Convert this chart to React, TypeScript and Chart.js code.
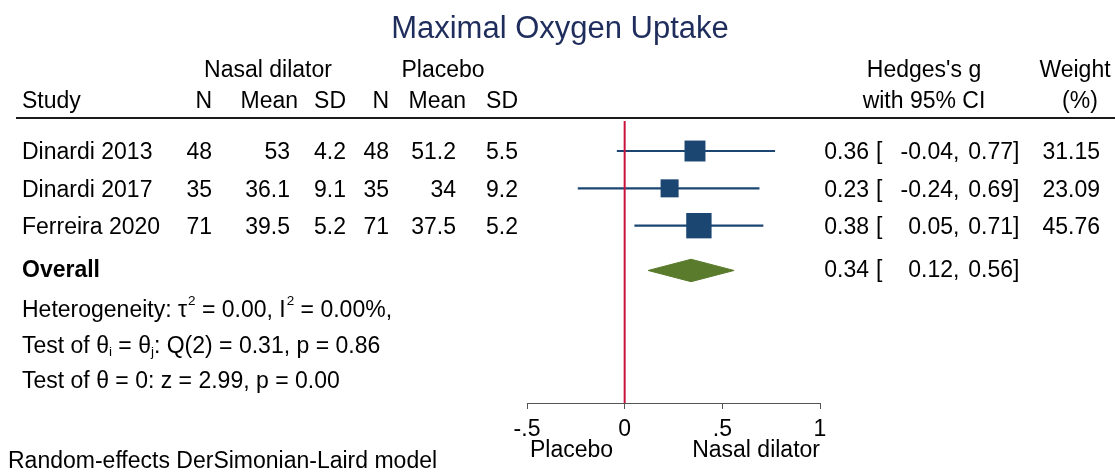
import React, { useEffect, useRef } from 'react';
import { Chart, registerables } from 'chart.js';

Chart.register(...registerables);

// ---------- data ----------
const chartTitle = 'Maximal Oxygen Uptake';
const studies = ['Dinardi 2013', 'Dinardi 2017', 'Ferreira 2020'];
const nTreat = [48, 35, 71];
const meanTreat = [53, 36.1, 39.5];
const sdTreat = [4.2, 9.1, 5.2];
const nCtrl = [48, 35, 71];
const meanCtrl = [51.2, 34, 37.5];
const sdCtrl = [5.5, 9.2, 5.2];
const effect = [0.36, 0.23, 0.38];
const lower = [-0.04, -0.24, 0.05];
const upper = [0.77, 0.69, 0.71];
const weight = [31.15, 23.09, 45.76];
const overallEffect = [0.34];
const overallLower = [0.12];
const overallUpper = [0.56];
const xTicks = [-0.5, 0, 0.5, 1];
const axisLabels = ['Placebo', 'Nasal dilator'];
const heterogeneity = { tau2: '0.00', i2: '0.00', q: '0.31', df: 2, pq: '0.86', z: '2.99', pz: '0.00' };
const modelNote = 'Random-effects DerSimonian-Laird model';

// ---------- layout constants ----------
const W = 1115;
const H = 473;
const FONT = '"Liberation Sans", Arial, Helvetica, sans-serif';
const F = `23px ${FONT}`;
const FB = `bold 23px ${FONT}`;
const FS = `13.5px ${FONT}`;
const rows = [1, 2, 3];
const overallRow = 4.2;
const Y_MIN = 0.196;
const Y_MAX = 7.75;
const NAVY = '#1b4672';
const RED = '#c8143c';
const GREEN = '#5a7a2c';

const textPlugin = {
  id: 'forestText',
  afterDraw(chart: any) {
    const ctx: CanvasRenderingContext2D = chart.ctx;
    const ys = chart.scales.y;
    ctx.save();
    const txt = (s: string, x: number, y: number, align: CanvasTextAlign = 'left', font = F, color = '#000') => {
      ctx.font = font;
      ctx.fillStyle = color;
      ctx.textAlign = align;
      ctx.textBaseline = 'middle';
      ctx.fillText(s, x, y);
      return ctx.measureText(s).width;
    };

    // title
    txt(chartTitle, 560, 29, 'center', `31px ${FONT}`, '#1f2d5c');

    // headers
    const h1 = 71;
    const h2 = 102;
    txt('Nasal dilator', 268, h1, 'center');
    txt('Placebo', 443, h1, 'center');
    txt("Hedges's g", 924, h1, 'center');
    txt('Weight', 1075, h1, 'center');
    txt('Study', 22, h2);
    txt('N', 212, h2, 'right');
    txt('Mean', 298, h2, 'right');
    txt('SD', 346, h2, 'right');
    txt('N', 389, h2, 'right');
    txt('Mean', 466, h2, 'right');
    txt('SD', 518, h2, 'right');
    txt('with 95% CI', 924, h2, 'center');
    txt('(%)', 1080, h2, 'center');

    // header rule
    ctx.strokeStyle = '#1a1a1a';
    ctx.lineWidth = 2;
    ctx.beginPath();
    ctx.moveTo(16, 118);
    ctx.lineTo(W, 118);
    ctx.stroke();

    const ciText = (y: number, es: number, lo: number, hi: number) => {
      txt(es.toFixed(2), 869, y, 'right');
      txt('[', 876, y, 'left');
      txt(lo.toFixed(2), 953, y, 'right');
      txt(',', 953, y, 'left');
      txt(hi.toFixed(2), 1013, y, 'right');
      txt(']', 1013, y, 'left');
    };

    studies.forEach((s, i) => {
      const y = ys.getPixelForValue(rows[i]) + 2;
      txt(s, 22, y);
      txt(String(nTreat[i]), 212, y, 'right');
      txt(String(meanTreat[i]), 290, y, 'right');
      txt(String(sdTreat[i]), 346, y, 'right');
      txt(String(nCtrl[i]), 389, y, 'right');
      txt(String(meanCtrl[i]), 456, y, 'right');
      txt(String(sdCtrl[i]), 518, y, 'right');
      ciText(y, effect[i], lower[i], upper[i]);
      txt(weight[i].toFixed(2), 1100, y, 'right');
    });

    const yo = ys.getPixelForValue(overallRow) + 0.5;
    txt('Overall', 22, yo, 'left', FB);
    ciText(yo, overallEffect[0], overallLower[0], overallUpper[0]);

    // heterogeneity lines
    let x = 22;
    const y1 = 311;
    x += txt('Heterogeneity: \u03c4', x, y1);
    x += txt('2', x + 1, y1 - 10, 'left', FS) + 1;
    x += txt(` = ${heterogeneity.tau2}, I`, x, y1);
    x += txt('2', x + 1, y1 - 10, 'left', FS) + 1;
    txt(` = ${heterogeneity.i2}%,`, x, y1);

    x = 22;
    const y2 = 347;
    x += txt('Test of \u03b8', x, y2);
    x += txt('i', x, y2 + 5, 'left', FS);
    x += txt(' = \u03b8', x, y2);
    x += txt('j', x, y2 + 5, 'left', FS);
    txt(`: Q(${heterogeneity.df}) = ${heterogeneity.q}, p = ${heterogeneity.pq}`, x, y2);

    txt(`Test of \u03b8 = 0: z = ${heterogeneity.z}, p = ${heterogeneity.pz}`, 22, 382);

    // axis labels
    txt(axisLabels[0], 530, 451, 'left');
    txt(axisLabels[1], 820, 451, 'right');

    txt(modelNote, 8, 462);
    ctx.restore();
  },
};

export default function App() {
  const ref = useRef<HTMLCanvasElement | null>(null);
  useEffect(() => {
    document.body.style.margin = '0';
    const canvas = ref.current;
    if (!canvas) return;

    const datasets: any[] = [];
    // null line
    datasets.push({
      type: 'line',
      data: [
        { x: 0, y: Y_MIN },
        { x: 0, y: Y_MAX },
      ],
      borderColor: RED,
      borderWidth: 2,
      pointRadius: 0,
      fill: false,
    });
    // confidence intervals
    studies.forEach((_, i) => {
      datasets.push({
        type: 'line',
        data: [
          { x: lower[i], y: rows[i] },
          { x: upper[i], y: rows[i] },
        ],
        borderColor: NAVY,
        borderWidth: 2.2,
        pointRadius: 0,
        fill: false,
      });
    });
    // squares (area proportional to weight)
    datasets.push({
      type: 'scatter',
      data: effect.map((e, i) => ({ x: e, y: rows[i] })),
      pointStyle: 'rect',
      pointRadius: weight.map((w) => (3.75 * Math.sqrt(w)) / Math.SQRT2),
      pointHoverRadius: weight.map((w) => (3.75 * Math.sqrt(w)) / Math.SQRT2),
      backgroundColor: NAVY,
      borderWidth: 0,
    });
    // overall diamond (top half filled to bottom half)
    const dh = 0.3;
    datasets.push({
      type: 'line',
      data: [
        { x: overallLower[0], y: overallRow },
        { x: overallEffect[0], y: overallRow - dh },
        { x: overallUpper[0], y: overallRow },
      ],
      borderColor: GREEN,
      borderWidth: 1,
      backgroundColor: GREEN,
      pointRadius: 0,
      tension: 0,
      fill: '+1',
    });
    datasets.push({
      type: 'line',
      data: [
        { x: overallLower[0], y: overallRow },
        { x: overallEffect[0], y: overallRow + dh },
        { x: overallUpper[0], y: overallRow },
      ],
      borderColor: GREEN,
      borderWidth: 1,
      backgroundColor: GREEN,
      pointRadius: 0,
      tension: 0,
      fill: false,
    });

    const chart = new Chart(canvas, {
      type: 'scatter',
      data: { datasets },
      plugins: [textPlugin],
      options: {
        animation: false,
        responsive: false,
        devicePixelRatio: 1,
        layout: { padding: { left: 527, right: W - 820, top: 121, bottom: 0 } },
        plugins: {
          legend: { display: false },
          tooltip: { enabled: false },
          title: { display: false },
        },
        events: [],
        scales: {
          x: {
            type: 'linear',
            position: 'bottom',
            min: xTicks[0],
            max: xTicks[xTicks.length - 1],
            afterBuildTicks: (scale: any) => {
              scale.ticks = xTicks.map((v) => ({ value: v }));
            },
            afterFit: (scale: any) => {
              scale.height = 70;
            },
            ticks: {
              font: { family: FONT, size: 23 },
              color: '#000',
              padding: 7,
              maxRotation: 0,
              autoSkip: false,
              callback: (v: any) => String(v).replace('0.', '.'),
            },
            grid: {
              drawOnChartArea: false,
              drawTicks: true,
              tickLength: 6,
              color: '#555',
              lineWidth: 1,
            },
            border: { display: true, color: '#555', width: 1 },
          },
          y: {
            type: 'linear',
            display: false,
            reverse: true,
            min: Y_MIN,
            max: Y_MAX,
          },
        },
      } as any,
    });
    return () => chart.destroy();
  }, []);

  return (
    <div style={{ width: W, height: H, background: '#fff' }}>
      <canvas ref={ref} width={W} height={H} style={{ display: 'block', width: W, height: H }} />
    </div>
  );
}
